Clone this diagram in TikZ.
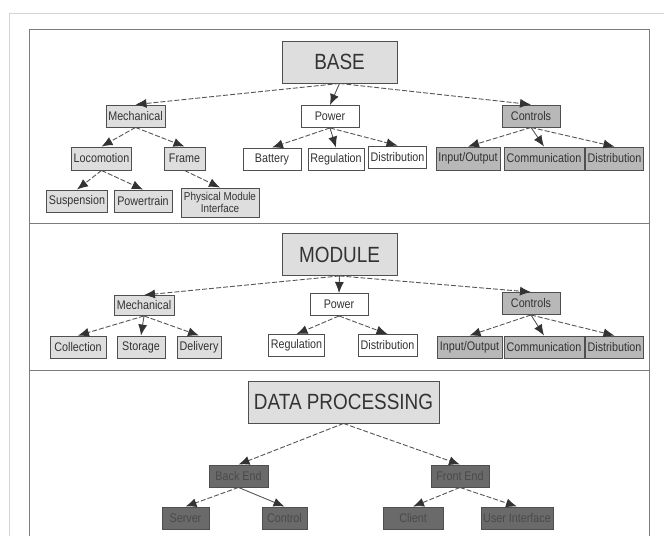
\documentclass[tikz,border=0pt]{standalone}
\usepackage{fontspec}
\setmainfont{Liberation Sans}[FakeStretch=0.86]
\usetikzlibrary{arrows.meta}

\definecolor{pagegray}{HTML}{D4D4D4}
\definecolor{framegray}{HTML}{7C7C7C}
\definecolor{edgegray}{HTML}{4F4F4F}
\definecolor{linegray}{HTML}{555555}
\definecolor{tipgray}{HTML}{333333}
\definecolor{textgray}{HTML}{333333}
\definecolor{lightfill}{HTML}{DEDEDE}
\definecolor{midfill}{HTML}{B8B8B8}
\definecolor{darkfill}{HTML}{6A6A6A}
\definecolor{darktext}{HTML}{4A4A4A}

\tikzstyle{block} = [rectangle, draw=edgegray, line width=0.9pt, text=textgray, minimum height=22pt, inner xsep=2pt, inner ysep=0pt, font=\fontsize{12.5}{13}\selectfont]
\tikzstyle{titlebox} = [block, fill=lightfill, minimum height=42pt, font=\fontsize{22}{24}\selectfont]
\tikzstyle{lightbox} = [block, fill=lightfill]
\tikzstyle{plainbox} = [block, fill=white]
\tikzstyle{midbox} = [block, fill=midfill]
\tikzstyle{darkbox} = [block, fill=darkfill, text=darktext]
\tikzstyle{line} = [draw=linegray, line width=0.9pt, -{Latex[length=11pt,width=9pt,color=tipgray]}]
\tikzstyle{dline} = [line, dash pattern=on 5pt off 2pt]

\begin{document}
\begin{tikzpicture}[x=1pt,y=-1pt]
	\useasboundingbox (0,0) rectangle (664,536);
	% frames
	\draw[pagegray, line width=0.8pt] (9,536) -- (9,13) -- (664,13);
	\draw[framegray, line width=1pt] (29,536) -- (29,29) -- (649,29) -- (649,536);
	\draw[framegray, line width=1pt] (29,223) -- (649,223);
	\draw[framegray, line width=1pt] (29,370) -- (649,370);
	
	% BASE
	\node[titlebox, minimum width=115pt] (base) at (339.5,62) {BASE};
	\node[lightbox, minimum width=59pt] (bmech) at (135.5,116) {Mechanical};
	\node[plainbox, minimum width=58pt] (bpow) at (330,116.5) {Power};
	\node[midbox, minimum width=58pt] (bctl) at (531,116) {Controls};
	\node[lightbox, minimum width=59pt, minimum height=23pt] (bloco) at (101.5,158.5) {Locomotion};
	\node[lightbox, minimum width=41pt, minimum height=23pt] (bframe) at (184.5,158.5) {Frame};
	\node[plainbox, minimum width=58pt] (bbatt) at (272,159) {Battery};
	\node[plainbox, minimum width=56pt] (breg) at (336,159) {Regulation};
	\node[plainbox, minimum width=57pt] (bdist) at (397.5,157) {Distribution};
	\node[midbox, minimum width=64pt, minimum height=23pt] (bio) at (468,158.5) {Input/Output};
	\node[midbox, minimum width=80pt, minimum height=23pt] (bcomm) at (544,158.5) {Communication};
	\node[midbox, minimum width=57pt, minimum height=23pt] (bcdist) at (614.5,158.5) {Distribution};
	\node[lightbox, minimum width=58pt] (bsusp) at (77,201) {Suspension};
	\node[lightbox, minimum width=58pt] (bpt) at (143,201) {Powertrain};
	\node[lightbox, minimum width=78pt, minimum height=29pt, inner xsep=1pt, align=center, font=\fontsize{11.5}{12}\selectfont] (bpmi) at (220,202.5) {Physical Module\\Interface};
	
	\path[dline] (base.south) -- (bmech.north);
	\path[line] (base.south) -- (bpow.north);
	\path[dline] (base.south) -- (bctl.north);
	\path[dline] (bmech.south) -- (bloco.north);
	\path[dline] (bmech.south) -- (bframe.north);
	\path[dline] (bpow.south) -- (bbatt.north);
	\path[line] (bpow.south) -- (breg.north);
	\path[dline] (bpow.south) -- (bdist.north);
	\path[dline] (bctl.south) -- (bio.north);
	\path[line] (bctl.south) -- (bcomm.north);
	\path[dline] (bctl.south) -- (bcdist.north);
	\path[dline] (bloco.south) -- (bsusp.north);
	\path[dline] (bloco.south) -- (bpt.north);
	\path[dline] (bframe.south) -- (bpmi.north);
	
	% MODULE
	\node[titlebox, minimum width=115pt] (mod) at (339.5,254.5) {MODULE};
	\node[lightbox, minimum width=60pt, minimum height=20pt] (mmech) at (144,305.5) {Mechanical};
	\node[plainbox, minimum width=58pt] (mpow) at (339,304.5) {Power};
	\node[midbox, minimum width=58pt] (mctl) at (531,303.5) {Controls};
	\node[lightbox, minimum width=56pt] (mcoll) at (78,347) {Collection};
	\node[lightbox, minimum width=48pt] (mstor) at (141,347) {Storage};
	\node[lightbox, minimum width=44pt] (mdel) at (199,347) {Delivery};
	\node[plainbox, minimum width=55pt] (mreg) at (296.5,345.5) {Regulation};
	\node[plainbox, minimum width=59pt] (mdist) at (387.5,345.5) {Distribution};
	\node[midbox, minimum width=65pt] (mio) at (469.5,347) {Input/Output};
	\node[midbox, minimum width=80pt] (mcomm) at (544,347) {Communication};
	\node[midbox, minimum width=57pt] (mcdist) at (614.5,347) {Distribution};
	
	\path[dline] (mod.south) -- (mmech.north);
	\path[line] (mod.south) -- (mpow.north);
	\path[dline] (mod.south) -- (mctl.north);
	\path[dline] (mmech.south) -- (mcoll.north);
	\path[line] (mmech.south) -- (mstor.north);
	\path[dline] (mmech.south) -- (mdel.north);
	\path[dline] (mpow.south) -- (mreg.north);
	\path[dline] (mpow.south) -- (mdist.north);
	\path[dline] (mctl.south) -- (mio.north);
	\path[line] (mctl.south) -- (mcomm.north);
	\path[dline] (mctl.south) -- (mcdist.north);
	
	% DATA PROCESSING
	\node[titlebox, minimum width=191pt] (dp) at (343.5,402) {DATA PROCESSING};
	\node[darkbox, minimum width=59pt] (back) at (238.5,476) {Back End};
	\node[darkbox, minimum width=58pt] (front) at (460,476) {Front End};
	\node[darkbox, minimum width=47pt] (serv) at (185.5,518) {Server};
	\node[darkbox, minimum width=45pt] (ctrl) at (284.5,518) {Control};
	\node[darkbox, minimum width=60pt] (client) at (413,518) {Client};
	\node[darkbox, minimum width=72pt] (ui) at (517,518) {User Interface};
	
	\path[dline] (dp.south) -- (back.north);
	\path[dline] (dp.south) -- (front.north);
	\path[dline] (back.south) -- (serv.north);
	\path[line] (back.south) -- (ctrl.north);
	\path[dline] (front.south) -- (client.north);
	\path[dline] (front.south) -- (ui.north);
\end{tikzpicture}
\end{document}
